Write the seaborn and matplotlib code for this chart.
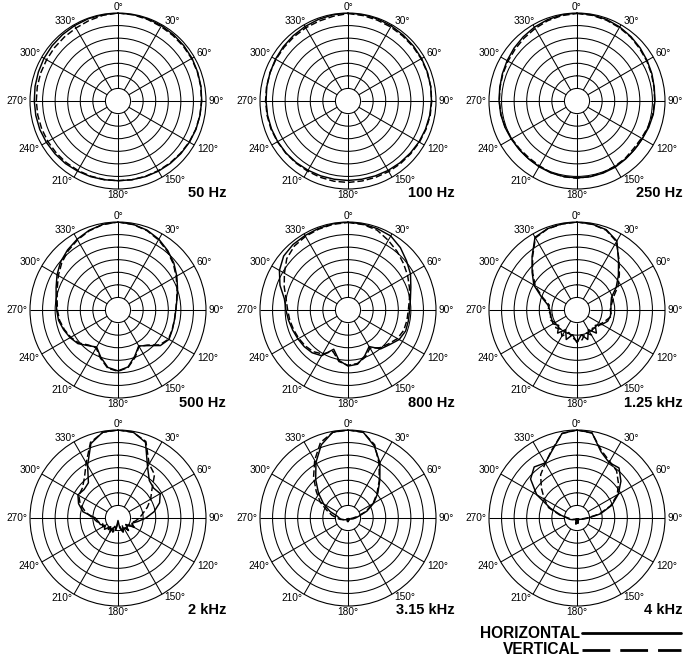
import matplotlib.pyplot as plt
from matplotlib.lines import Line2D
import numpy as np
import pandas as pd
import seaborn as sns

# polar response, dB relative to on-axis, read every 10 degrees (0..350)
ANGLES = list(range(0, 360, 10))

H50 = [0.0, -0.1, -0.2, -0.4, -0.6, -0.8,
       -1.0, -1.3, -1.5, -1.7, -1.9, -2.0,
       -2.2, -2.4, -2.6, -2.8, -3.0, -3.2,
       -3.3, -3.2, -3.0, -2.8, -2.5, -2.3,
       -2.1, -1.9, -1.8, -1.7, -1.5, -1.3,
       -1.0, -0.8, -0.6, -0.4, -0.2, -0.1]
V50 = [0.0, -0.2, -0.5, -0.8, -1.0, -1.1,
       -1.2, -1.4, -1.6, -1.8, -1.9, -2.1,
       -2.3, -2.6, -2.8, -3.0, -3.1, -3.2,
       -3.3, -3.3, -3.2, -3.1, -3.0, -2.9,
       -2.8, -2.7, -2.6, -2.5, -2.4, -2.3,
       -2.2, -2.0, -1.8, -1.5, -1.0, -0.4]
H100 = [0.0, -0.1, -0.3, -0.5, -0.8, -1.0,
        -1.2, -1.4, -1.6, -1.8, -2.0, -2.2,
        -2.4, -2.7, -2.9, -3.1, -3.3, -3.4,
        -3.4, -3.4, -3.3, -3.2, -3.0, -2.8,
        -2.7, -2.6, -2.5, -2.4, -2.2, -2.0,
        -1.7, -1.4, -1.1, -0.8, -0.5, -0.2]
V100 = [-0.2, -0.5, -0.8, -1.0, -1.2, -1.3,
        -1.4, -1.5, -1.6, -1.7, -1.8, -2.0,
        -2.2, -2.4, -2.5, -2.6, -2.7, -2.7,
        -2.6, -2.6, -2.7, -2.8, -2.8, -2.7,
        -2.6, -2.4, -2.3, -2.2, -2.1, -2.0,
        -1.9, -1.8, -1.6, -1.4, -1.2, -0.8]
H250 = [0.0, -0.2, -0.5, -1.0, -1.6, -2.2,
        -2.8, -3.3, -3.8, -4.0, -4.2, -4.6,
        -5.0, -5.1, -4.9, -4.6, -4.5, -4.4,
        -4.4, -4.5, -4.6, -4.8, -5.0, -5.0,
        -4.8, -4.5, -4.2, -4.0, -3.8, -3.4,
        -2.9, -2.3, -1.7, -1.1, -0.6, -0.2]
V250 = [-0.2, -0.4, -0.8, -1.3, -1.8, -2.5,
        -3.0, -3.5, -3.9, -4.1, -4.4, -4.9,
        -5.4, -5.6, -5.2, -5.0, -4.7, -4.5,
        -4.3, -4.4, -4.7, -5.2, -5.4, -5.3,
        -5.0, -4.6, -4.3, -4.1, -3.9, -3.6,
        -3.3, -2.9, -2.3, -1.7, -1.0, -0.5]
H500 = [0.0, -0.4, -1.2, -2.5, -4.2, -6.0,
        -8.0, -9.8, -11.2, -12.0, -12.2, -12.0,
        -11.6, -13.0, -16.5, -18.5, -15.5, -12.0,
        -10.8, -11.8, -15.0, -18.0, -16.5, -14.2,
        -13.0, -12.0, -11.0, -10.6, -10.0, -8.8,
        -7.0, -5.2, -3.8, -2.5, -1.3, -0.4]
V500 = [0.0, -0.5, -1.4, -2.8, -4.5, -6.3,
        -8.3, -10.0, -11.3, -12.0, -12.2, -12.1,
        -11.8, -13.4, -16.8, -18.3, -15.0, -11.8,
        -10.6, -11.5, -14.6, -17.6, -16.8, -14.6,
        -13.3, -12.3, -11.4, -10.9, -10.4, -9.3,
        -7.6, -5.8, -4.2, -2.8, -1.5, -0.5]
H800 = [0.0, -0.3, -0.6, -1.0, -2.6, -4.6,
        -6.3, -8.4, -9.8, -10.5, -10.6, -10.6,
        -11.5, -13.5, -14.8, -18.2, -15.6, -13.1,
        -12.7, -14.6, -18.4, -14.0, -12.8, -12.3,
        -12.0, -11.6, -11.0, -10.3, -9.3, -6.2,
        -3.5, -1.6, -1.0, -0.8, -0.5, -0.2]
V800 = [-0.2, -0.5, -1.2, -3.0, -4.6, -6.2,
        -7.6, -9.0, -10.2, -11.0, -11.2, -11.4,
        -12.3, -14.0, -15.4, -17.5, -15.0, -13.4,
        -13.0, -14.2, -17.5, -14.8, -13.4, -12.8,
        -12.4, -12.0, -11.5, -11.0, -10.0, -8.0,
        -5.8, -3.2, -1.8, -1.2, -0.8, -0.4]
H1250 = [0.0, -0.3, -1.0, -3.3, -9.3, -13.5,
         -17.0, -20.4, -21.3, -21.5, -21.5, -22.0,
         -23.5, -25.5, -23.0, -26.0, -22.5, -25.0,
         -22.0, -25.0, -22.5, -26.0, -23.0, -25.5,
         -24.0, -24.3, -24.2, -24.2, -23.2, -20.0,
         -15.2, -11.7, -7.2, -1.6, -0.6, -0.2]
V1250 = [0.0, -0.4, -1.2, -3.6, -9.0, -13.0,
         -16.2, -19.5, -21.0, -21.8, -21.0, -22.8,
         -24.0, -24.5, -25.5, -23.5, -25.5, -23.0,
         -22.5, -24.0, -25.5, -23.0, -25.0, -24.0,
         -25.0, -23.5, -24.5, -23.5, -23.8, -20.5,
         -15.8, -12.0, -7.5, -1.9, -0.7, -0.3]
H2000 = [0.0, -0.3, -3.0, -11.5, -15.6, -16.5,
         -15.6, -17.4, -20.4, -23.9, -27.0, -29.0,
         -28.0, -30.5, -29.0, -30.5, -29.0, -31.0,
         -34.0, -30.0, -31.5, -28.5, -30.5, -28.0,
         -29.0, -27.5, -27.0, -26.0, -20.9, -18.3,
         -16.6, -17.4, -16.7, -10.8, -3.5, -0.3]
V2000 = [0.0, -0.4, -2.6, -10.2, -12.4, -17.4,
         -20.0, -22.6, -25.0, -26.5, -28.0, -29.5,
         -27.5, -31.0, -28.5, -31.5, -28.5, -32.0,
         -33.0, -31.0, -29.0, -31.0, -29.0, -30.0,
         -28.0, -28.5, -26.5, -25.0, -22.0, -19.0,
         -17.0, -16.5, -14.2, -9.7, -3.0, -0.4]
H3150 = [0.0, -0.3, -4.5, -9.6, -15.3, -19.5,
         -23.2, -27.0, -30.5, -32.0, -33.0, -33.8,
         -34.2, -34.5, -34.3, -34.6, -34.0, -34.7,
         -33.5, -34.6, -34.2, -34.5, -34.4, -34.0,
         -33.6, -33.0, -32.2, -31.5, -30.6, -27.4,
         -23.8, -19.7, -15.0, -9.5, -4.0, -0.3]
V3150 = [0.0, -0.4, -4.0, -10.2, -15.7, -20.0,
         -23.5, -27.5, -31.0, -33.0, -33.8, -34.3,
         -34.6, -34.3, -34.7, -34.4, -34.8, -33.8,
         -34.9, -33.6, -34.6, -34.2, -34.6, -34.2,
         -33.8, -33.2, -31.8, -30.5, -28.5, -26.0,
         -22.2, -18.5, -13.7, -8.5, -3.0, -0.4]
H4000 = [0.0, -0.6, -7.0, -9.5, -9.0, -12.2,
         -16.0, -20.3, -25.6, -30.5, -32.5, -33.5,
         -34.0, -34.3, -34.0, -34.5, -33.8, -33.0,
         -34.5, -32.5, -34.2, -34.5, -34.2, -34.0,
         -33.8, -33.0, -32.0, -31.0, -28.5, -23.8,
         -16.5, -10.9, -8.5, -9.7, -6.3, -0.8]
V4000 = [0.0, -0.7, -6.5, -9.0, -10.5, -13.5,
         -16.5, -20.8, -26.0, -31.0, -33.0, -34.0,
         -34.4, -34.0, -34.6, -34.0, -34.7, -32.8,
         -33.5, -34.6, -33.5, -34.4, -34.6, -34.3,
         -34.0, -33.4, -32.5, -31.5, -28.0, -23.0,
         -20.0, -16.5, -12.5, -9.8, -6.0, -0.9]

FREQUENCIES = ["50 Hz", "100 Hz", "250 Hz",
               "500 Hz", "800 Hz", "1.25 kHz",
               "2 kHz", "3.15 kHz", "4 kHz"]
HORIZONTAL = [H50, H100, H250, H500, H800, H1250, H2000, H3150, H4000]
VERTICAL = [V50, V100, V250, V500, V800, V1250, V2000, V3150, V4000]

SPOKES = list(range(0, 360, 30))
RINGS = [-30, -25, -20, -15, -10, -5]
R_MIN, R_MAX = -35, 0

FIG_W, FIG_H = 695, 658
COLUMN_CENTERS = [118, 348, 577]
ROW_CENTERS = [101, 310, 518]
RADIUS = 88
FREQ_LABEL_RIGHT = [226, 455, 683]
FREQ_LABEL_Y = [193, 403, 610]

# ha, va, x offset, y offset (points) for each angle label
ANGLE_LABEL_POS = {
    0: ("center", "bottom", 0, 1),
    30: ("left", "bottom", 1.5, -1),
    60: ("left", "bottom", 2, -1),
    90: ("left", "center", 2, 0),
    120: ("left", "top", 2, 1),
    150: ("left", "top", 1.5, 1.5),
    180: ("center", "top", 0, -1),
    210: ("right", "top", -1, 1),
    240: ("right", "top", -2, 1),
    270: ("right", "center", -2, 0),
    300: ("right", "bottom", -1, -1),
    330: ("right", "bottom", 1, -1),
}


def to_frame(horizontal, vertical):
    rows = []
    for plane, values in (("HORIZONTAL", horizontal), ("VERTICAL", vertical)):
        assert len(values) == len(ANGLES)
        closed_angles = ANGLES + [360]
        closed_values = list(values) + [values[0]]
        for a, v in zip(closed_angles, closed_values):
            rows.append({"theta": np.deg2rad(a), "level": v, "plane": plane})
    return pd.DataFrame(rows)


def draw_panel(fig, cx, cy, df):
    rect = [(cx - RADIUS) / FIG_W, 1 - (cy + RADIUS) / FIG_H,
            2 * RADIUS / FIG_W, 2 * RADIUS / FIG_H]
    ax = fig.add_axes(rect, projection="polar")
    ax.set_theta_zero_location("N")
    ax.set_theta_direction(-1)

    sns.lineplot(data=df, x="theta", y="level", style="plane",
                 dashes={"HORIZONTAL": "", "VERTICAL": (4.5, 2)},
                 sort=False, estimator=None, legend=False,
                 color="black", linewidth=1.05, ax=ax)

    ax.set_rlim(R_MIN, R_MAX)
    ax.set_xlabel("")
    ax.set_ylabel("")
    ax.set_xticks(np.deg2rad(SPOKES))
    ax.set_xticklabels([])
    ax.xaxis.grid(False)
    ax.set_yticks(RINGS)
    ax.set_yticklabels([])
    ax.yaxis.grid(True, color="black", linewidth=0.75, linestyle="-")
    ax.tick_params(length=0)
    ax.vlines(np.deg2rad(SPOKES), RINGS[0], R_MAX, color="black", linewidth=0.75)
    ax.spines["polar"].set_color("black")
    ax.spines["polar"].set_linewidth(0.8)
    ax.set_facecolor("white")

    for angle in SPOKES:
        ha, va, ox, oy = ANGLE_LABEL_POS[angle]
        ax.annotate(f"{angle}°", xy=(np.deg2rad(angle), R_MAX), xytext=(ox, oy),
                    textcoords="offset points", ha=ha, va=va, fontsize=7.3,
                    color="black", annotation_clip=False)
    return ax


def main():
    sns.set_style("white")
    plt.rcParams["font.family"] = ["Liberation Sans", "DejaVu Sans"]
    plt.rcParams["text.color"] = "black"

    fig = plt.figure(figsize=(FIG_W / 100, FIG_H / 100), dpi=100)

    for i, freq in enumerate(FREQUENCIES):
        row, col = divmod(i, 3)
        df = to_frame(HORIZONTAL[i], VERTICAL[i])
        draw_panel(fig, COLUMN_CENTERS[col], ROW_CENTERS[row], df)
        fig.text(FREQ_LABEL_RIGHT[col] / FIG_W, 1 - FREQ_LABEL_Y[row] / FIG_H, freq,
                 ha="right", va="center", fontsize=10.5, fontweight="bold",
                 color="black")

    # legend drawn by hand: text right-aligned against the line samples
    for label, y, dashes in (("HORIZONTAL", 633, None), ("VERTICAL", 650, (10, 3.6))):
        fig.text(580 / FIG_W, 1 - y / FIG_H, label, ha="right", va="center",
                 fontsize=11.2, fontweight="bold", color="black")
        line = Line2D([582 / FIG_W, 681 / FIG_W], [1 - y / FIG_H, 1 - y / FIG_H],
                      transform=fig.transFigure, color="black", linewidth=2.0)
        if dashes:
            line.set_dashes(dashes)
        fig.add_artist(line)

    fig.savefig("out.png", dpi=100, facecolor="white")


if __name__ == "__main__":
    main()
